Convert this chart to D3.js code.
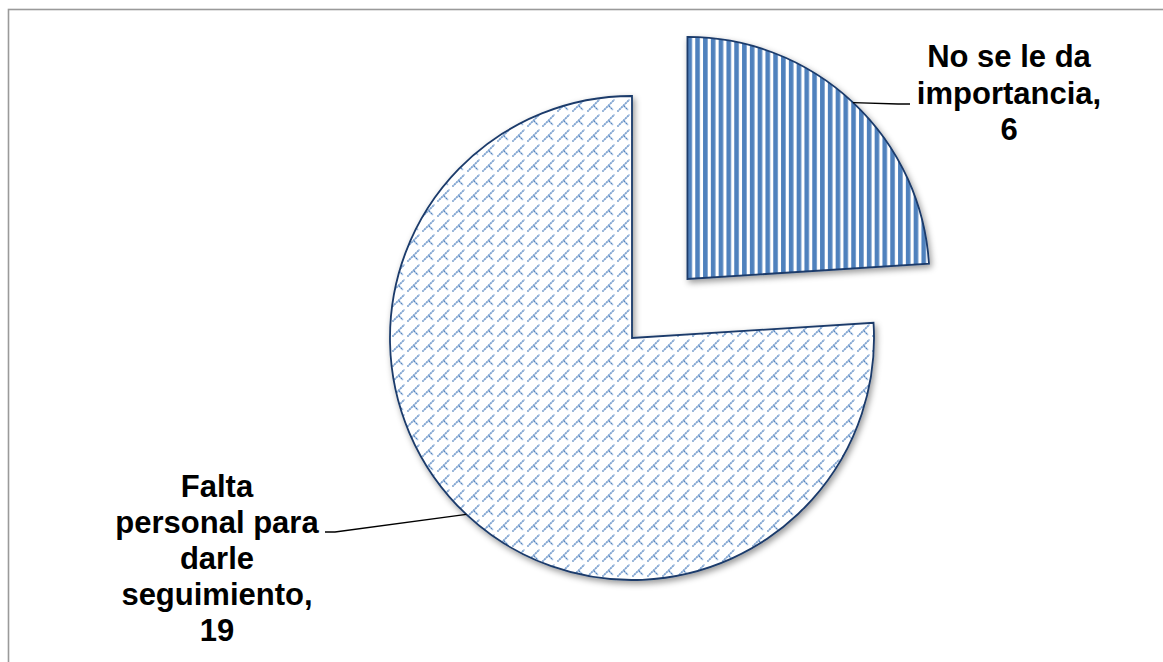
<!DOCTYPE html>
<html>
<head>
<meta charset="utf-8">
<script src="https://cdn.jsdelivr.net/npm/d3@7"></script>
<style>
  html, body { margin: 0; padding: 0; background: #fff; }
  svg { display: block; }
  text { font-family: "Liberation Sans", Arial, sans-serif; font-weight: bold; fill: #000; }
</style>
</head>
<body>
<svg id="chart" width="1163" height="662"></svg>
<script>
// Reasons for lack of follow-up
const categories = ["No se le da importancia", "Falta personal para darle seguimiento"];
const values = [6, 19];
const labelLines = [
  ["No se le da", "importancia,", "6"],
  ["Falta", "personal para", "darle", "seguimiento,", "19"]
];

const W = 1163, H = 662;
const svg = d3.select("#chart");
const defs = svg.append("defs");

// chart area frame (continues past the right and bottom edges)
svg.append("rect")
  .attr("x", 8.5).attr("y", 9.5)
  .attr("width", W).attr("height", H)
  .attr("fill", "none").attr("stroke", "#9a9a9a").attr("stroke-width", 1.6);

// soft drop shadow under each slice
const shadow = defs.append("filter").attr("id", "shadow")
  .attr("x", "-10%").attr("y", "-10%").attr("width", "130%").attr("height", "130%");
shadow.append("feDropShadow")
  .attr("dx", 2).attr("dy", 3).attr("stdDeviation", 3)
  .attr("flood-color", "#000").attr("flood-opacity", 0.4);

// vertical stripe fill
const stripes = defs.append("pattern").attr("id", "stripes")
  .attr("patternUnits", "userSpaceOnUse").attr("width", 7.8).attr("height", 10);
stripes.append("rect").attr("width", 7.8).attr("height", 10).attr("fill", "#fff");
stripes.append("rect").attr("x", 0).attr("width", 4.6).attr("height", 10).attr("fill", "#4f81bd");

// dotted trellis fill: a long rising diagonal with a short branch falling to the right,
// built from alternating dark and light dots
const trellis = defs.append("pattern").attr("id", "trellis")
  .attr("patternUnits", "userSpaceOnUse").attr("width", 15).attr("height", 15);
trellis.append("rect").attr("width", 15).attr("height", 15).attr("fill", "#fff");
const motifDots = [];
for (let k = 0; k <= 11; k++) motifDots.push([1 + k, 13 - k]);   // rising stroke
for (let k = 1; k <= 4; k++) motifDots.push([6.5 + k, 7.5 + k]);  // falling branch
trellis.selectAll("rect.dot")
  .data(motifDots)
  .join("rect")
  .attr("class", "dot")
  .attr("x", d => d[0] - 0.75).attr("y", d => d[1] - 0.75)
  .attr("width", 1.5).attr("height", 1.5)
  .attr("fill", (d, i) => i % 2 ? "#9ebbe0" : "#4f81bd");

const fills = ["url(#stripes)", "url(#trellis)"];

// pie geometry
const cx = 632, cy = 338, R = 242, explode = 81;
const pie = d3.pie().sort(null).value(d => d)(values);
const arc = d3.arc().innerRadius(0).outerRadius(R);
const mid = d => (d.startAngle + d.endAngle) / 2;
const offset = (d, i) => i === 0 ? explode : 0;
const polar = (a, r) => [r * Math.sin(a), -r * Math.cos(a)];

const slices = svg.append("g").attr("transform", `translate(${cx},${cy})`);
slices.selectAll("path.slice")
  .data(pie)
  .join("path")
  .attr("class", "slice")
  .attr("transform", (d, i) => {
    const [dx, dy] = polar(mid(d), offset(d, i));
    return `translate(${dx},${dy})`;
  })
  .attr("d", arc)
  .attr("fill", (d, i) => fills[i])
  .attr("stroke", "#1a3a6b")
  .attr("stroke-width", 1.8)
  .attr("stroke-linejoin", "miter")
  .attr("filter", "url(#shadow)");

// leader lines: from the outer edge at the slice middle to an elbow beside the label
const elbows = [
  { bend: [898 - cx, 104 - cy], end: [910 - cx, 104 - cy] },
  { bend: [335 - cx, 532 - cy], end: [325 - cx, 532 - cy] }
];
slices.selectAll("path.leader")
  .data(pie)
  .join("path")
  .attr("class", "leader")
  .attr("d", (d, i) => {
    const [ox, oy] = polar(mid(d), offset(d, i));
    const [px, py] = polar(mid(d), R);
    const e = elbows[i];
    return d3.line()([[ox + px, oy + py], e.bend, e.end]);
  })
  .attr("fill", "none").attr("stroke", "#000").attr("stroke-width", 1.3);

// data labels
const labelPos = [
  { x: 1009, y: 67, lh: 36.5 },
  { x: 217, y: 497, lh: 36 }
];
const labels = svg.append("g");
pie.forEach((d, i) => {
  const t = labels.append("text")
    .attr("text-anchor", "middle")
    .style("font-size", "31px");
  labelLines[i].forEach((line, k) => {
    t.append("tspan")
      .attr("x", labelPos[i].x)
      .attr("y", labelPos[i].y + k * labelPos[i].lh)
      .text(line);
  });
});
</script>
</body>
</html>
